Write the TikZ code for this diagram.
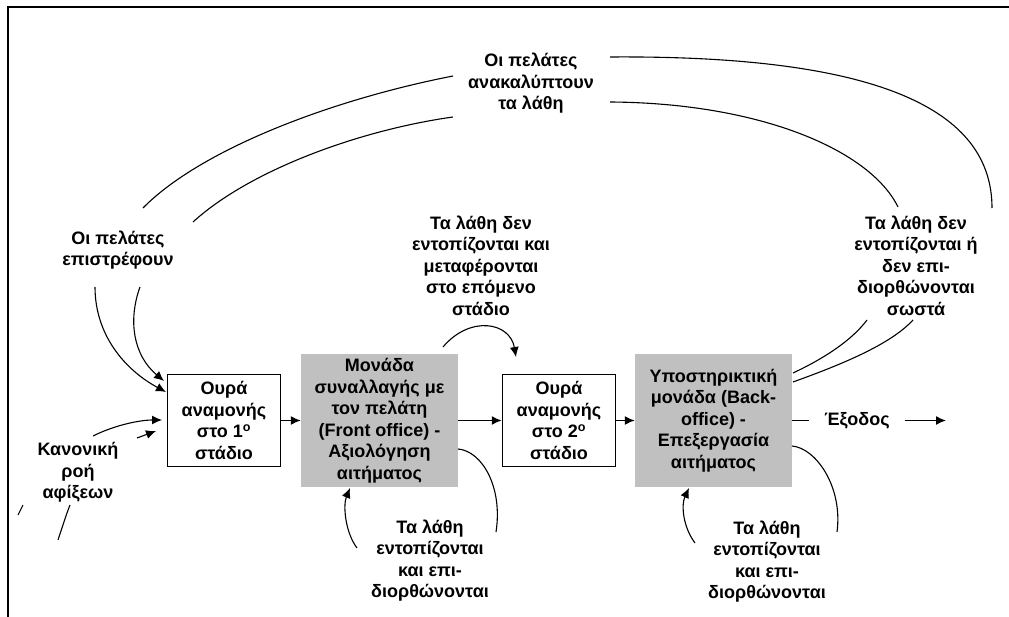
\documentclass[tikz,border=0pt]{standalone}
\usepackage{fontspec}
\setmainfont{Liberation Sans}
\usetikzlibrary{arrows.meta}
\definecolor{unitgray}{HTML}{C0C0C0}
\begin{document}
\begin{tikzpicture}[x=1pt,y=-1pt,
  lbl/.style={align=center,inner sep=0pt,font=\fontsize{18}{21.5}\selectfont\bfseries},
  queue/.style={lbl,draw,line width=1.5pt,minimum width=113pt,minimum height=92pt},
  unit/.style={lbl,fill=unitgray,minimum width=157pt,minimum height=133pt},
  arr/.style={line width=1.5pt,-{Latex[length=10pt,width=9pt]}},
  link/.style={line width=1.1pt},
  linkarr/.style={link,-{Latex[length=10pt,width=9pt]}}]

\useasboundingbox (0,0) rectangle (1009,617);

% outer frame (left and top edges)
\draw[line width=2pt,line join=miter] (7.5,617) -- (7.5,7.5) -- (1009,7.5);

% main process chain
\node[queue] (q1) at (224,420.5) {Ουρά\\αναμονής\\στο 1\textsuperscript{ο}\\στάδιο};
\node[unit]  (u1) at (379.5,420.5) {Μονάδα\\συναλλαγής με\\τον πελάτη\\(Front office) -\\Αξιολόγηση\\αιτήματος};
\node[queue] (q2) at (559,420.5) {Ουρά\\αναμονής\\στο 2\textsuperscript{ο}\\στάδιο};
\node[unit]  (u2) at (713.5,420.5) {Υποστηρικτική\\μονάδα (Back-\\office) -\\Επεξεργασία\\αιτήματος};

\draw[arr] (q1.east) -- (u1.west);
\draw[arr] (u1.east) -- (q2.west);
\draw[arr] (q2.east) -- (u2.west);

% exit
\node[lbl,inner xsep=15pt] (exitlbl) at (857,420.5) {Έξοδος};
\coordinate (exitend) at (946,420.5);
\draw[line width=1.5pt] (u2.east) -- (exitlbl.west);
\draw[arr] (exitlbl.east) -- (exitend);

% labels
\node[lbl] (found)   at (531,83.5)  {Οι πελάτες\\ανακαλύπτουν\\τα λάθη};
\node[lbl] (back)    at (118,250)   {Οι πελάτες\\επιστρέφουν};
\node[lbl] (normal)  at (78,472.5)  {Κανονική\\ροή\\αφίξεων};
\node[lbl] (passon)  at (481,265.5) {Τα λάθη δεν\\εντοπίζονται και\\μεταφέρονται\\στο επόμενο\\στάδιο};
\node[lbl] (missed)  at (916,265.5) {Τα λάθη δεν\\εντοπίζονται ή\\δεν επι-\\διορθώνονται\\σωστά};
\node[lbl] (fixa)    at (430,560.5) {Τα λάθη\\εντοπίζονται\\και επι-\\διορθώνονται};
\node[lbl] (fixb)    at (767,561.5) {Τα λάθη\\εντοπίζονται\\και επι-\\διορθώνονται};

% customers discover errors: paths from the back office round to the returns
\coordinate (fL1) at (453,76);
\coordinate (fL2) at (453,117);
\coordinate (fR1) at (610,57);
\coordinate (fR2) at (610,102);
\coordinate (bk1) at (143,208);
\coordinate (bk2) at (193,222);
\coordinate (ms1) at (992,208);
\coordinate (ms2) at (898,207);

\draw[link] (fL1) .. controls (330,100) and (200,150) .. (bk1);
\draw[link] (fL2) .. controls (360,130) and (250,170) .. (bk2);
\draw[link] (fR1) .. controls (880,55) and (992,110) .. (ms1);
\draw[link] (fR2) .. controls (760,103) and (870,150) .. (ms2);

% back office to the missed-errors label
\coordinate (u2a) at (793,373);
\coordinate (u2b) at (793,382);
\coordinate (msA) at (867,320);
\coordinate (msB) at (913,320);
\draw[link] (u2a) .. controls (825,358) and (852,340) .. (msA);
\draw[link] (u2b) .. controls (840,365) and (890,345) .. (msB);

% returning customers into the first queue
\coordinate (bkA) at (95,287);
\coordinate (bkB) at (140,287);
\coordinate (q1a) at (166,392);
\coordinate (q1b) at (164,381);
\draw[linkarr] (bkA) .. controls (95,335) and (125,370) .. (q1a);
\draw[linkarr] (bkB) .. controls (128,320) and (133,355) .. (q1b);

% normal arrivals
\coordinate (nA) at (93,436);
\coordinate (nB) at (137,438);
\coordinate (q1c) at (162,420);
\coordinate (q1d) at (156,431);
\draw[linkarr] (nA) .. controls (115,425) and (140,420) .. (q1c);
\draw[linkarr] (nB) -- (q1d);
\coordinate (tA1) at (58,540);
\coordinate (tA2) at (70,505);
\coordinate (tB1) at (18,515);
\coordinate (tB2) at (23,505);
\draw[link] (tA1) .. controls (62,528) and (66,515) .. (tA2);
\draw[link] (tB1) -- (tB2);

% errors passed on to the next stage
\coordinate (pA) at (443,347);
\coordinate (pB) at (516,357);
\draw[linkarr] (pA) .. controls (470,315) and (510,322) .. (pB);

% errors found and corrected at the front office
\coordinate (u1o) at (458,449);
\coordinate (fa1) at (496,532);
\coordinate (fa2) at (357,548);
\coordinate (u1i) at (350,488);
\draw[link] (u1o) .. controls (482,451) and (503,487) .. (fa1);
\draw[linkarr] (fa2) .. controls (345,532) and (343,505) .. (u1i);

% errors found and corrected at the back office
\coordinate (u2o) at (792,446);
\coordinate (fb1) at (837,532);
\coordinate (fb2) at (695,543);
\coordinate (u2i) at (689,488);
\draw[link] (u2o) .. controls (816,448) and (843,487) .. (fb1);
\draw[linkarr] (fb2) .. controls (683,527) and (681,505) .. (u2i);

\end{tikzpicture}
\end{document}
